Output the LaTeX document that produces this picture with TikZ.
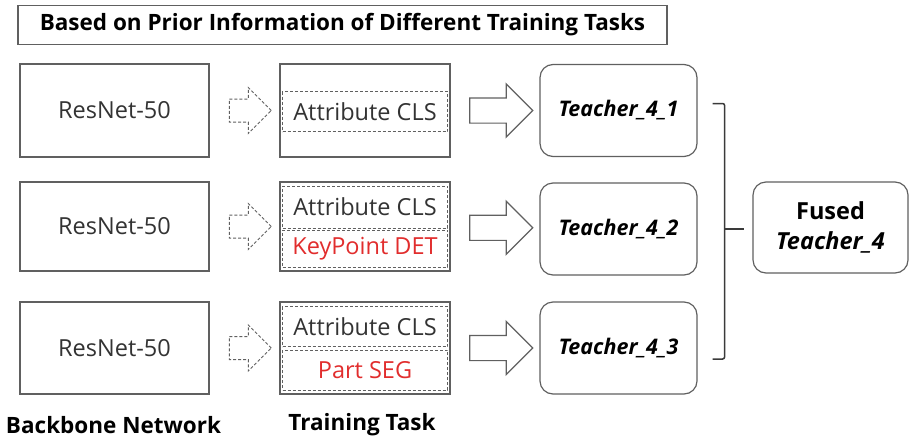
\documentclass[tikz,border=0pt]{standalone}
\usepackage{fontspec}
\setmainfont{Open Sans}
\usepackage{tikz}
\usetikzlibrary{shapes.arrows,calc}

\definecolor{linegray}{RGB}{96,96,96}
\definecolor{taskred}{RGB}{225,45,45}

\begin{document}
\begin{tikzpicture}[x=1pt, y=-1pt,
    every node/.style={inner sep=0pt, font=\fontsize{23.5}{28}\selectfont, text=black!80},
    box/.style={draw=linegray, line width=1.2pt, minimum width=189pt},
    taskbox/.style={draw=linegray, line width=1.2pt, minimum width=170pt},
    part/.style={draw=linegray, line width=1pt, dash pattern=on 3pt off 2pt, minimum width=165pt},
    teacher/.style={draw=linegray, line width=1.2pt, rounded corners=13pt, minimum width=157pt,
        font=\fontsize{21.5}{26}\selectfont\bfseries\itshape, text=black},
    dasharrow/.style={single arrow, draw=linegray, line width=1pt, dash pattern=on 3pt off 2pt,
        inner sep=11pt, single arrow head extend=11.5pt, minimum height=42pt},
    bigarrow/.style={single arrow, draw=linegray, line width=1.2pt,
        inner sep=12pt, single arrow head extend=14pt, minimum height=63pt},
    caption/.style={font=\fontsize{22.5}{27}\selectfont\bfseries, text=black}]
    \useasboundingbox (0,0) rectangle (909,442);

    \node[draw=linegray, line width=1.2pt, minimum width=649pt, minimum height=39pt,
        font=\fontsize{22.5}{27}\selectfont\bfseries, text=black] (title) at (342.5,25) {Based on Prior Information of Different Training Tasks};

    % backbones
    \node[box, minimum height=93pt] (res1) at (114.5,110.5) {ResNet-50};
    \node[box, minimum height=89pt] (res2) at (114.5,226.5) {ResNet-50};
    \node[box, minimum height=92pt] (res3) at (114.5,348) {ResNet-50};

    % training tasks
    \node[taskbox, minimum height=93pt] (task1) at (365,110.5) {};
    \node[part, minimum height=40pt] (cls1) at (365,111.5) {Attribute CLS};

    \node[taskbox, minimum height=89pt] (task2) at (365,226.5) {};
    \node[part, minimum height=42pt] (cls2) at (365,207) {Attribute CLS};
    \node[part, minimum height=37pt, text=taskred] (det2) at (365,248.5) {KeyPoint DET};

    \node[taskbox, minimum height=92pt] (task3) at (365,348) {};
    \node[part, minimum height=40pt] (cls3) at (365,326.5) {Attribute CLS};
    \node[part, minimum height=40pt, text=taskred] (seg3) at (365,370) {Part SEG};

    % teachers
    \node[teacher, minimum height=92pt] (t1) at (618.5,110.5) {Teacher\_4\_1};
    \node[teacher, minimum height=92pt] (t2) at (618.5,229) {Teacher\_4\_2};
    \node[teacher, minimum height=92pt] (t3) at (618.5,348) {Teacher\_4\_3};

    \node[teacher, minimum width=155pt, minimum height=91pt, font=\fontsize{23.5}{30}\selectfont\bfseries,
        align=center] (fused) at (830.5,227.5) {Fused\\\itshape Teacher\_4};

    % arrows
    \foreach \i in {1,2,3} {
        \node[dasharrow] (da\i) at ($(res\i.east)!0.5!(task\i.west)$) {};
        \node[bigarrow] (ba\i) at ($(task\i.east)!0.5!(t\i.west)$) {};
    }

    % fusion bracket
    \coordinate (brtop) at ([xshift=15pt, yshift=7pt]t1.east);
    \coordinate (brbot) at ([xshift=15pt, yshift=-11pt]t3.east);
    \coordinate (brmid) at ([xshift=27pt]t2.east);
    \draw[linegray!60!black, line width=1.5pt, rounded corners=2pt]
        (brtop) -| (brmid) |- (brbot);
    \draw[linegray!60!black, line width=1.5pt] (brmid) -- ([xshift=-8pt]fused.west |- brmid);

    \node[caption] (lbb) at (113.5,425) {Backbone Network};
    \node[caption] (ltt) at (362,425) {Training Task};
\end{tikzpicture}
\end{document}
